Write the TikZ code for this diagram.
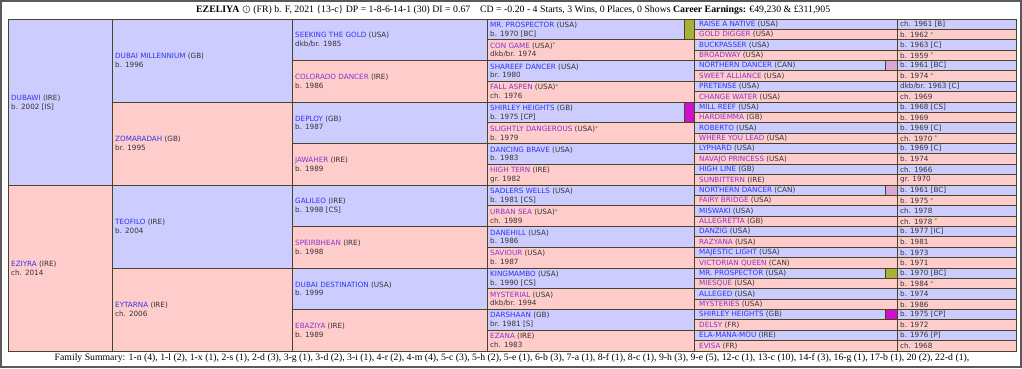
\documentclass[tikz,border=0pt]{standalone}
\usepackage{fontspec}
\setmainfont{DejaVu Sans}
\newfontfamily\headserif{Liberation Serif}
\usepackage{xcolor}
\usetikzlibrary{positioning}
\definecolor{sireblue}{RGB}{204,204,255}
\definecolor{dampink}{RGB}{255,204,204}
\definecolor{linkblue}{RGB}{51,51,238}
\definecolor{linkviolet}{RGB}{136,51,204}
\definecolor{gridline}{RGB}{72,68,40}
\definecolor{textgray}{RGB}{51,51,51}
\definecolor{stargreen}{RGB}{0,160,0}
\definecolor{swolive}{RGB}{168,176,58}
\definecolor{swmagenta}{RGB}{204,17,204}
\definecolor{swlilac}{RGB}{216,168,208}
\definecolor{framegray}{RGB}{90,90,90}
\newcommand{\fstar}{\textcolor{stargreen}{\raisebox{1.2pt}{\fontsize{5.5}{5}\selectfont*}}}
\newcommand{\dkbr}{dkb/br.}

\begin{document}
\begin{tikzpicture}[x=1pt,y=-1pt,
  every node/.style={font=\fontsize{7.2}{8.8}\selectfont,text=textgray},
  cell/.style={draw=gridline,line width=1pt},
  horse/.style={anchor=west,align=left,inner sep=0pt},
  headtext/.style={text=black,inner sep=0pt,font=\headserif\fontsize{9.8}{12}\selectfont}]
\useasboundingbox (0,0) rectangle (1022,368);
\draw[framegray,line width=1.2pt] (1,1) rectangle (1021,367);
% cells, sire rows blue, dam rows pink
\foreach \g/\xa/\xb in {1/8/112,2/112/292,3/292/487,4/487/694,5/694/897,5/897/1016} {
  \pgfmathtruncatemacro{\nn}{2^\g-1}
  \pgfmathsetmacro{\h}{332/(\nn+1)}
  \foreach \i in {0,...,\nn} {
    \pgfmathtruncatemacro{\odd}{mod(\i,2)}
    \ifnum\odd=0 \def\cc{sireblue}\else\def\cc{dampink}\fi
    \path[cell,fill=\cc] (\xa,{19+\i*\h}) rectangle (\xb,{19+(\i+1)*\h});
  }
}
% colour swatches
\path[cell,fill=swolive] (684,19) rectangle (694,39.75);
\path[cell,fill=swmagenta] (684,102) rectangle (694,122.75);
\foreach \r/\cc in {4/swlilac,16/swlilac,24/swolive,28/swmagenta}
  \path[cell,fill=\cc] (885,{19+\r*10.375}) rectangle (897,{19+(\r+1)*10.375});

% generation 1
\node[horse] (g1a) at (11,102.5) {\textcolor{linkblue}{DUBAWI} (IRE)\\b. 2002 [IS]};
\node[horse] (g1b) at (11,268.5) {\textcolor{linkblue}{EZIYRA} (IRE)\\ch. 2014};
% generation 2
\foreach \nm/\ct/\yr [count=\i from 0] in {DUBAI MILLENNIUM/GB/b. 1996,ZOMARADAH/GB/br. 1995,
    TEOFILO/IRE/b. 2004,EYTARNA/IRE/ch. 2006}
  \node[horse] (g2n\i) at (115,{19+(\i+0.5)*83}) {\textcolor{linkblue}{\nm} (\ct)\\\yr};
% generation 3
\foreach \nm/\ct/\yr [count=\i from 0] in {SEEKING THE GOLD/USA/\dkbr{} 1985,COLORADO DANCER/IRE/b. 1986,
    DEPLOY/GB/b. 1987,JAWAHER/IRE/b. 1989,GALILEO/IRE/b. 1998 [CS],SPEIRBHEAN/IRE/b. 1998,
    DUBAI DESTINATION/USA/b. 1999,EBAZIYA/IRE/b. 1989} {
  \pgfmathtruncatemacro{\odd}{mod(\i,2)}
  \ifnum\odd=0 \def\lc{linkblue}\else\def\lc{linkviolet}\fi
  \node[horse] (g3n\i) at (295,{19+(\i+0.5)*41.5}) {\textcolor{\lc}{\nm} (\ct)\\\yr};
}
% generation 4
\foreach \nm/\ct/\st/\yr [count=\i from 0] in {MR. PROSPECTOR/USA/\relax/b. 1970 [BC],
    CON GAME/USA/\fstar/\dkbr{} 1974,SHAREEF DANCER/USA/\relax/br. 1980,FALL ASPEN/USA/\fstar/ch. 1976,
    SHIRLEY HEIGHTS/GB/\relax/b. 1975 [CP],SLIGHTLY DANGEROUS/USA/\fstar/b. 1979,
    DANCING BRAVE/USA/\relax/b. 1983,HIGH TERN/IRE/\relax/gr. 1982,SADLERS WELLS/USA/\relax/b. 1981 [CS],
    URBAN SEA/USA/\fstar/ch. 1989,DANEHILL/USA/\relax/b. 1986,SAVIOUR/USA/\relax/b. 1987,
    KINGMAMBO/USA/\relax/b. 1990 [CS],MYSTERIAL/USA/\relax/\dkbr{} 1994,DARSHAAN/GB/\relax/br. 1981 [S],
    EZANA/IRE/\relax/ch. 1983} {
  \pgfmathtruncatemacro{\odd}{mod(\i,2)}
  \ifnum\odd=0 \def\lc{linkblue}\else\def\lc{linkviolet}\fi
  \node[horse] (g4n\i) at (490,{19+(\i+0.5)*20.75}) {\textcolor{\lc}{\nm} (\ct)\st\\\yr};
}
% generation 5, name and year columns
\foreach \nm/\ct/\yr [count=\i from 0] in {RAISE A NATIVE/USA/ch. 1961 [B],GOLD DIGGER/USA/b. 1962 \fstar,
    BUCKPASSER/USA/b. 1963 [C],BROADWAY/USA/b. 1959 \fstar,NORTHERN DANCER/CAN/b. 1961 [BC],
    SWEET ALLIANCE/USA/b. 1974 \fstar,PRETENSE/USA/\dkbr{} 1963 [C],CHANGE WATER/USA/ch. 1969,
    MILL REEF/USA/b. 1968 [CS],HARDIEMMA/GB/b. 1969,ROBERTO/USA/b. 1969 [C],
    WHERE YOU LEAD/USA/ch. 1970 \fstar,LYPHARD/USA/b. 1969 [C],NAVAJO PRINCESS/USA/b. 1974,
    HIGH LINE/GB/ch. 1966,SUNBITTERN/IRE/gr. 1970,NORTHERN DANCER/CAN/b. 1961 [BC],
    FAIRY BRIDGE/USA/b. 1975 \fstar,MISWAKI/USA/ch. 1978,ALLEGRETTA/GB/ch. 1978 \fstar,
    DANZIG/USA/b. 1977 [IC],RAZYANA/USA/b. 1981,MAJESTIC LIGHT/USA/b. 1973,VICTORIAN QUEEN/CAN/b. 1971,
    MR. PROSPECTOR/USA/b. 1970 [BC],MIESQUE/USA/b. 1984 \fstar,ALLEGED/USA/b. 1974,MYSTERIES/USA/b. 1986,
    SHIRLEY HEIGHTS/GB/b. 1975 [CP],DELSY/FR/b. 1972,ELA-MANA-MOU/IRE/b. 1976 [P],EVISA/FR/ch. 1968} {
  \pgfmathtruncatemacro{\odd}{mod(\i,2)}
  \ifnum\odd=0 \def\lc{linkblue}\else\def\lc{linkviolet}\fi
  \node[horse] (g5n\i) at (699,{19+(\i+0.5)*10.375}) {\textcolor{\lc}{\nm} (\ct)};
  \node[horse] (g5y\i) at (900,{19+(\i+0.5)*10.375}) {\yr};
}

% heading and family summary
\node[headtext,anchor=base west] (title) at (196,12.3) {\textbf{EZELIYA}};
\node[circle,draw=textgray,line width=0.5pt,inner sep=0.4pt,minimum size=7pt,
  font=\fontsize{5.5}{6}\selectfont,right=3pt of title.east,yshift=-0.2pt] (info) {i};
\node[headtext,anchor=base west] (titlerest) at ([xshift=3pt]info.east |- title.base)
  {(FR) b. F, 2021 \{13-c\} DP = 1-8-6-14-1 (30) DI = 0.67\quad CD = -0.20 - 4 Starts, 3 Wins, 0 Places, 0 Shows \textbf{Career Earnings:} €49,230 \& £311,905};
\node[text=black,font=\headserif\fontsize{9.75}{11}\selectfont] (summary) at (512,358.5)
  {Family Summary: 1-n (4), 1-l (2), 1-x (1), 2-s (1), 2-d (3), 3-g (1), 3-d (2), 3-i (1), 4-r (2), 4-m (4), 5-c (3), 5-h (2), 5-e (1), 6-b (3), 7-a (1), 8-f (1), 8-c (1), 9-h (3), 9-e (5), 12-c (1), 13-c (10), 14-f (3), 16-g (1), 17-b (1), 20 (2), 22-d (1),};
\end{tikzpicture}
\end{document}
